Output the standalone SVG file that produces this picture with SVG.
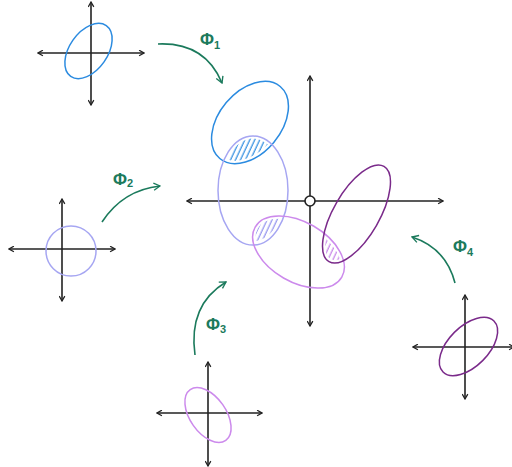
<svg xmlns="http://www.w3.org/2000/svg" width="512" height="467" viewBox="0 0 512 467">
<style>
.ax{stroke:#222;stroke-width:1.6;fill:none;marker-start:url(#ah);marker-end:url(#ah)}
.el{fill:none;stroke-width:1.5}
.blue{stroke:#2b8be0}
.lav{stroke:#a6a6f2}
.vio{stroke:#cc8aec}
.pur{stroke:#7a2a8a}
.con{fill:none;stroke:#1b7a5c;stroke-width:1.6;marker-end:url(#gh)}
.lbl{font-family:"Liberation Sans",Arial,sans-serif;fill:#1b7a5c;font-weight:bold}
</style>
<defs>
<marker id="ah" viewBox="0 0 10 10" refX="9" refY="5" markerWidth="7" markerHeight="7" orient="auto-start-reverse" markerUnits="userSpaceOnUse">
<path d="M2,1 L9,5 L2,9" fill="none" stroke="#222" stroke-width="1.8"/>
</marker>
<marker id="gh" viewBox="0 0 10 10" refX="9" refY="5" markerWidth="9" markerHeight="9" orient="auto" markerUnits="userSpaceOnUse">
<path d="M2,1 L9,5 L2,9" fill="none" stroke="#1b7a5c" stroke-width="1.5"/>
</marker>
<pattern id="hb" width="4.5" height="8" patternUnits="userSpaceOnUse" patternTransform="rotate(25)">
<line x1="2" y1="0" x2="2" y2="8" stroke="#2b8be0" stroke-width="1.2"/>
</pattern>
<pattern id="hl" width="4.5" height="8" patternUnits="userSpaceOnUse" patternTransform="rotate(25)">
<line x1="2" y1="0" x2="2" y2="8" stroke="#8f8fee" stroke-width="1.2"/>
</pattern>
<pattern id="hv" width="4.5" height="8" patternUnits="userSpaceOnUse" patternTransform="rotate(25)">
<line x1="2" y1="0" x2="2" y2="8" stroke="#c47ee8" stroke-width="1.2"/>
</pattern>
<clipPath id="cBlue"><ellipse cx="0" cy="0" rx="44" ry="28" transform="translate(250,122.5) rotate(-50)"/></clipPath>
<clipPath id="cLav"><ellipse cx="253" cy="190.5" rx="32" ry="52"/></clipPath>
<clipPath id="cLav2"><ellipse cx="253" cy="190.5" rx="32" ry="51"/></clipPath>
<clipPath id="cVio"><ellipse cx="0" cy="0" rx="47" ry="27" transform="translate(298.5,252) rotate(30)"/></clipPath>
<clipPath id="cPur"><ellipse cx="0" cy="0" rx="52" ry="20" transform="translate(356.5,214) rotate(-60)"/></clipPath>
</defs>

<g id="hatches">
<g clip-path="url(#cBlue)"><rect x="200" y="120" width="100" height="60" fill="url(#hb)" clip-path="url(#cLav)"/></g>
<g clip-path="url(#cLav2)"><rect x="210" y="200" width="100" height="60" fill="url(#hl)" clip-path="url(#cVio)"/></g>
<g clip-path="url(#cVio)"><rect x="310" y="210" width="60" height="70" fill="url(#hv)" clip-path="url(#cPur)"/></g>
</g>

<g id="main-plot">
<line class="ax" x1="187" y1="201" x2="443" y2="201"/>
<line class="ax" x1="310" y1="326" x2="310" y2="76"/>
<ellipse class="el blue" cx="0" cy="0" rx="47" ry="31" transform="translate(250,122.5) rotate(-50)"/>
<ellipse class="el lav" cx="253" cy="190.5" rx="35" ry="54.5"/>
<ellipse class="el vio" cx="0" cy="0" rx="50" ry="30" transform="translate(298.5,252) rotate(30)"/>
<ellipse class="el pur" cx="0" cy="0" rx="55" ry="23" transform="translate(356.5,214) rotate(-60)"/>
<circle cx="310" cy="201" r="5" fill="#fff" stroke="#222" stroke-width="1.6"/>
</g>

<g id="plot-1">
<line class="ax" x1="38" y1="53" x2="144" y2="53"/>
<line class="ax" x1="91" y1="105" x2="91" y2="2"/>
<ellipse class="el blue" cx="0" cy="0" rx="31" ry="19" transform="translate(88.5,51) rotate(-55)"/>
</g>

<g id="plot-2">
<line class="ax" x1="9" y1="249" x2="115" y2="249"/>
<line class="ax" x1="62" y1="301" x2="62" y2="199"/>
<circle class="el lav" cx="71" cy="251" r="25"/>
</g>

<g id="plot-3">
<line class="ax" x1="157" y1="413" x2="262" y2="413"/>
<line class="ax" x1="208" y1="466" x2="208" y2="362"/>
<ellipse class="el vio" cx="0" cy="0" rx="31" ry="18" transform="translate(208,415) rotate(55)"/>
</g>

<g id="plot-4">
<line class="ax" x1="413" y1="347" x2="514" y2="347"/>
<line class="ax" x1="465" y1="399" x2="465" y2="295"/>
<ellipse class="el pur" cx="0" cy="0" rx="36" ry="20" transform="translate(468.5,346.5) rotate(-45)"/>
</g>

<g id="connectors">
<path class="con" d="M158,44 Q205,42 222,83"/>
<path class="con" d="M102,222 Q123,190 160,186"/>
<path class="con" d="M195,355 Q188,305 226,282"/>
<path class="con" d="M455,283 Q446,248 412,237"/>
</g>

<g id="labels">
<text class="lbl" x="200" y="45" font-size="17">Φ<tspan font-size="11" dy="4">1</tspan></text>
<text class="lbl" x="113" y="185" font-size="17">Φ<tspan font-size="11" dy="2">2</tspan></text>
<text class="lbl" x="206" y="330" font-size="17">Φ<tspan font-size="11" dy="3">3</tspan></text>
<text class="lbl" x="453" y="252" font-size="17">Φ<tspan font-size="11" dy="4">4</tspan></text>
</g>
</svg>
